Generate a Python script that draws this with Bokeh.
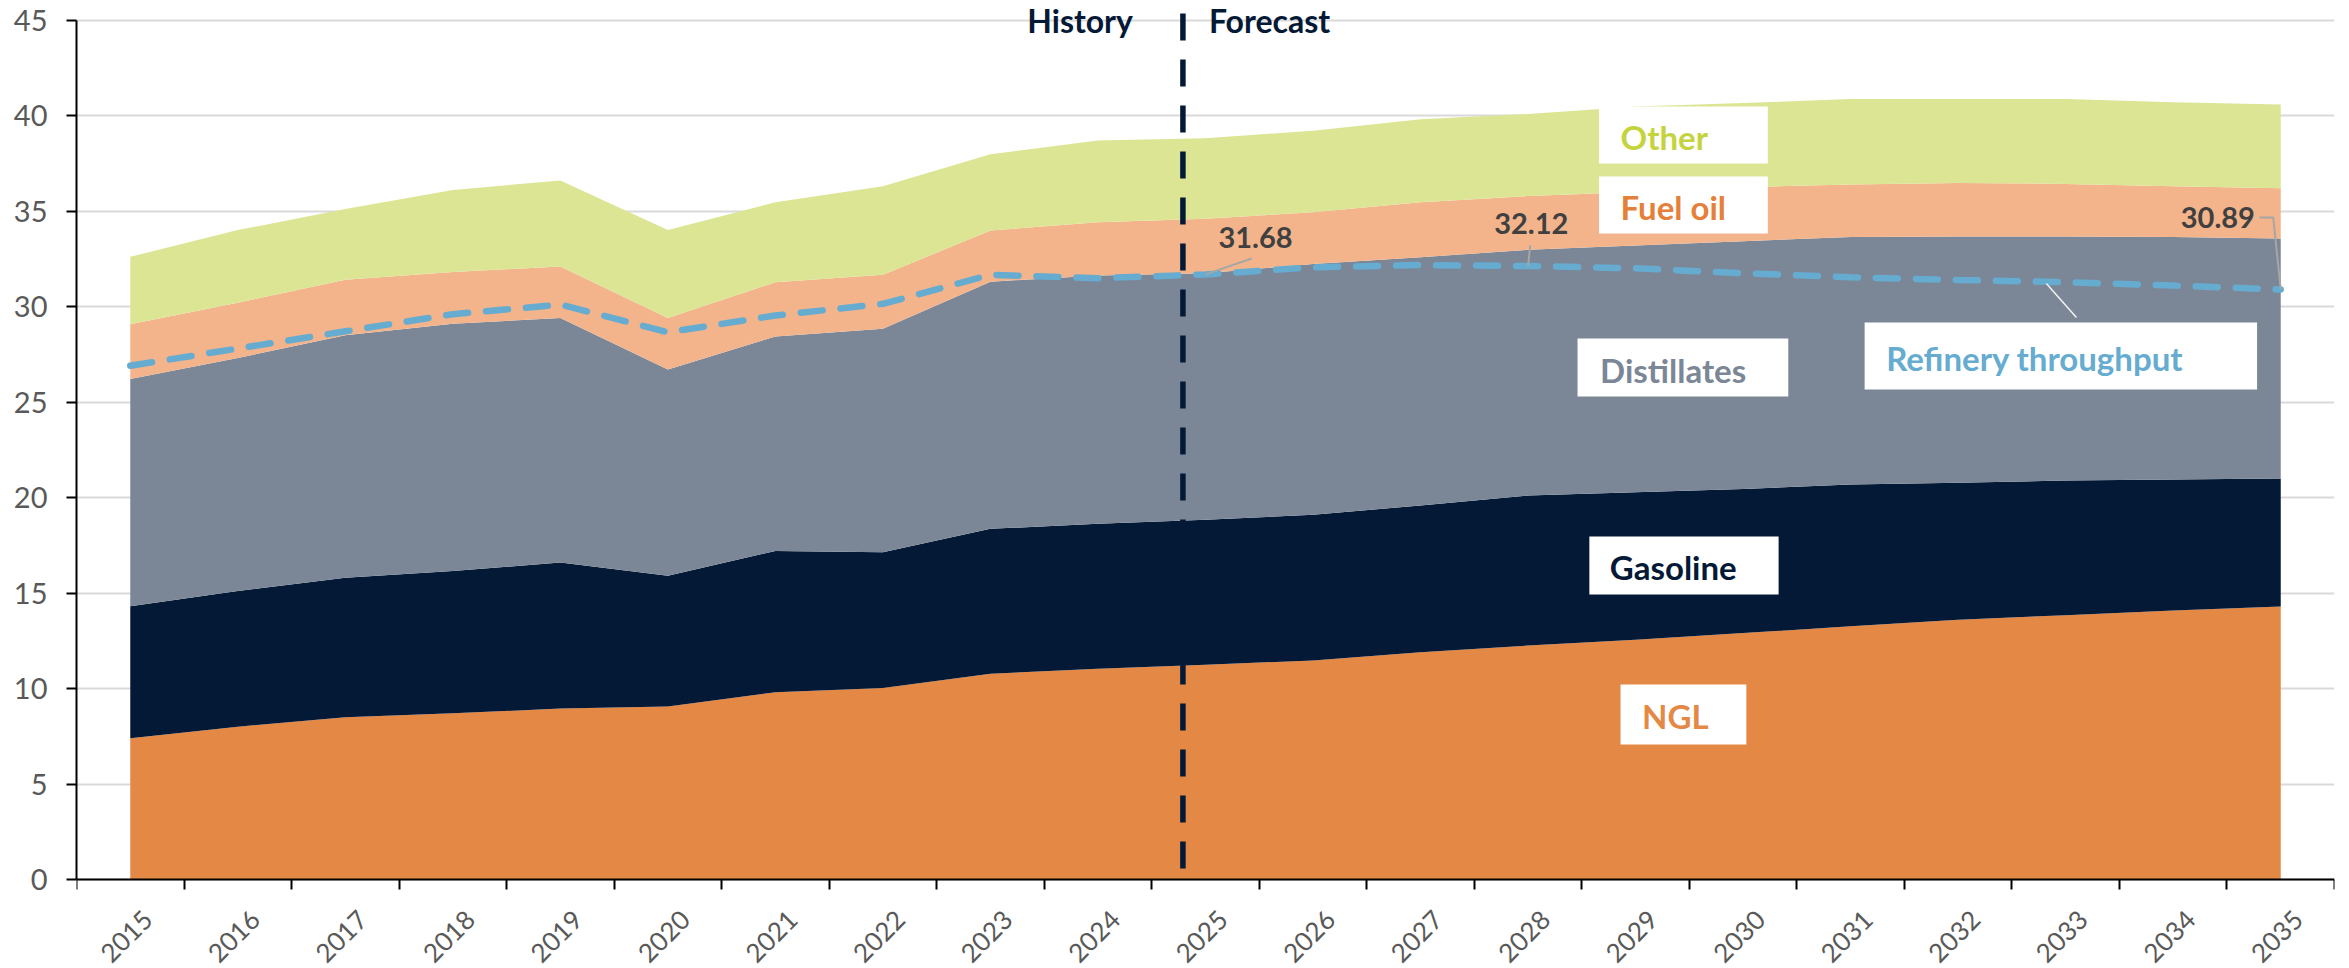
import math
from bokeh.plotting import figure
from bokeh.models import Range1d, FixedTicker, ColumnDataSource, Label, BoxAnnotation
from bokeh.embed import file_html
from bokeh.resources import INLINE

# ---------------- data (million b/d) ----------------
years = [str(y) for y in range(2015, 2036)]
ngl = [7.4, 8.0, 8.5, 8.7, 8.95, 9.06, 9.81, 10.02, 10.77, 11.03, 11.24,
       11.47, 11.9, 12.25, 12.55, 12.9, 13.26, 13.6, 13.84, 14.08, 14.29]
gasoline = [6.9, 7.1, 7.3, 7.45, 7.65, 6.84, 7.39, 7.12, 7.59, 7.59, 7.59,
            7.63, 7.68, 7.85, 7.73, 7.55, 7.42, 7.17, 7.05, 6.86, 6.71]
distillates = [11.9, 12.2, 12.7, 12.95, 12.8, 10.8, 11.23, 11.69, 12.94, 13.0, 12.91,
               13.13, 13.0, 12.87, 12.91, 12.97, 12.96, 12.89, 12.77, 12.7, 12.56]
fuel_oil = [2.87, 2.9, 2.9, 2.7, 2.7, 2.7, 2.84, 2.83, 2.68, 2.79, 2.85,
            2.71, 2.88, 2.81, 2.8, 2.83, 2.75, 2.81, 2.76, 2.66, 2.63]
other = [3.53, 3.8, 3.7, 4.3, 4.5, 4.6, 4.19, 4.64, 3.99, 4.28, 4.22,
         4.26, 4.34, 4.3, 4.48, 4.4, 4.48, 4.4, 4.45, 4.4, 4.38]
refinery = [26.9, 27.8, 28.7, 29.6, 30.1, 28.65, 29.53, 30.14, 31.66, 31.48, 31.68,
            32.05, 32.17, 32.12, 32.0, 31.74, 31.53, 31.39, 31.27, 31.1, 30.89]

series_names = ["NGL", "Gasoline", "Distillates", "Fuel oil", "Other"]
series_keys = ["ngl", "gasoline", "distillates", "fuel_oil", "other"]
series_colors = ["#E38845", "#041936", "#7B8797", "#F3B48C", "#DCE594"]
label_colors = ["#E38845", "#041936", "#7B8797", "#E5803A", "#C5D43E"]
refinery_name = "Refinery throughput"
refinery_color = "#65ACD0"
labelled_years = ["2025", "2028", "2035"]
y_ticks = list(range(0, 46, 5))
divider_pos = 9.79  # history / forecast divider (category units)

FONT = "Lato"

# layout: value axis 0..45 spans pixel rows 879..19.5 of a 968 px tall frame
H = 968
y0_px, y45_px = 879.0, 19.5
ppu = (y0_px - y45_px) / 45.0
y_start = -(H - y0_px) / ppu
y_end = 45 + y45_px / ppu
divider_top = 45 + 6.5 / ppu

x = list(range(len(years)))
src = ColumnDataSource(dict(x=x, ngl=ngl, gasoline=gasoline, distillates=distillates,
                            fuel_oil=fuel_oil, other=other, refinery=refinery))

p = figure(width=2341, height=H,
           x_range=Range1d(-0.5, len(years) - 0.5), y_range=Range1d(y_start, y_end),
           output_backend="svg", toolbar_location=None,
           min_border_left=76, min_border_right=7, min_border_top=0, min_border_bottom=0)
p.outline_line_color = None
p.background_fill_color = "white"
p.border_fill_color = "white"

p.varea_stack(stackers=series_keys, x="x", color=series_colors, source=src)
p.line("x", "refinery", source=src, line_color=refinery_color, line_width=6.5,
       line_dash="22 18", line_cap="round")

# y axis
yt = FixedTicker(ticks=y_ticks)
p.yaxis.ticker = yt
p.yaxis.bounds = (0, 45)
p.ygrid.ticker = yt
p.ygrid.grid_line_color = "#D9D9D9"
p.ygrid.grid_line_width = 2
p.xgrid.visible = False

p.yaxis.axis_line_color = "black"
p.yaxis.axis_line_width = 2
p.yaxis.major_tick_line_color = "black"
p.yaxis.major_tick_line_width = 2
p.yaxis.major_tick_out = 10
p.yaxis.major_tick_in = 0
p.yaxis.minor_tick_line_color = None
p.yaxis.major_label_standoff = 19
p.yaxis.major_label_text_font = FONT
p.yaxis.major_label_text_font_size = "29px"
p.yaxis.major_label_text_color = "#595959"

# x axis at value 0: ticks on category boundaries, rotated year labels at category centres
p.xaxis.fixed_location = 0
p.xaxis.ticker = FixedTicker(ticks=x, minor_ticks=[i - 0.5 for i in range(len(years) + 1)])
p.xaxis.major_label_overrides = {i: "" for i in x}
p.xaxis.major_label_text_font_size = "0px"
p.xaxis.major_label_standoff = 0
p.xaxis.axis_line_color = "black"
p.xaxis.axis_line_width = 2
p.xaxis.major_tick_out = 0
p.xaxis.major_tick_in = 0
p.xaxis.minor_tick_out = 10
p.xaxis.minor_tick_in = 0
p.xaxis.minor_tick_line_color = "black"
p.xaxis.minor_tick_line_width = 2
for i, yr in zip(x, years):
    p.add_layout(Label(x=i, y=0, y_offset=-35, x_offset=17, text=yr, angle=math.pi / 4,
                       text_align="right", text_baseline="middle", text_font=FONT,
                       text_font_size="26px", text_color="#595959"))

# history / forecast divider (from just above the top gridline down to the axis)
p.segment(x0=[divider_pos], y0=[divider_top], x1=[divider_pos], y1=[0],
          line_color="#041936", line_width=5.5, line_dash="27 19")
p.add_layout(Label(x=divider_pos, y=44.5, x_offset=-50, y_offset=9, text="History",
                   text_align="right", text_baseline="alphabetic", text_font=FONT,
                   text_font_style="bold", text_font_size="32px", text_color="#041936"))
p.add_layout(Label(x=divider_pos, y=44.5, x_offset=26, y_offset=9, text="Forecast",
                   text_align="left", text_baseline="alphabetic", text_font=FONT,
                   text_font_style="bold", text_font_size="32px", text_color="#041936"))

# series name boxes: (left, right, top, bottom) box and (x, y) text anchor, in data units
name_boxes = {
    "Other": ((13.66, 15.23, 40.47, 37.49), (13.86, 38.9)),
    "Fuel oil": ((13.66, 15.23, 36.81, 33.82), (13.86, 35.2)),
    "Distillates": ((13.46, 15.42, 28.32, 25.29), (13.67, 26.7)),
    "Gasoline": ((13.57, 15.33, 17.96, 14.92), (13.76, 16.35)),
    "NGL": ((13.86, 15.03, 10.21, 7.07), (14.06, 8.55)),
    refinery_name: ((16.13, 19.78, 29.16, 25.65), (16.33, 27.3)),
}
name_colors = dict(zip(series_names, label_colors))
name_colors[refinery_name] = refinery_color

# refinery label leader
ri = 18
p.line([ri - 0.18, ri + 0.1], [31.2, 29.42], line_color="#F2F2F2", line_width=1.5)

for name, ((l, r, t, b), (tx, ty)) in name_boxes.items():
    p.add_layout(BoxAnnotation(left=l, right=r, top=t, bottom=b, fill_color="white",
                               fill_alpha=1, line_color=None))
    p.add_layout(Label(x=tx, y=ty, text=name, text_align="left", text_baseline="middle",
                       text_font=FONT, text_font_style="bold", text_font_size="33px",
                       text_color=name_colors[name]))

# data labels for refinery throughput
lab_pos = {"2025": (10.12, 33.6, "left"), "2028": (13.03, 34.35, "center"),
           "2035": (19.76, 34.66, "right")}
leaders = {"2025": ([10.43], [32.51]), "2028": ([13.02], [33.2]),
           "2035": ([19.8, 19.93], [34.66, 34.66])}
for yr in labelled_years:
    i = years.index(yr)
    lx, ly, al = lab_pos[yr]
    xs, ys = leaders[yr]
    p.line(xs + [i], ys + [refinery[i]], line_color="#A6A6A6", line_width=2)
    p.add_layout(Label(x=lx, y=ly, text=f"{refinery[i]:.2f}", text_align=al,
                       text_baseline="middle", text_font=FONT, text_font_style="bold",
                       text_font_size="29px", text_color="#404040"))

open("out.html", "w").write(file_html(p, INLINE))
